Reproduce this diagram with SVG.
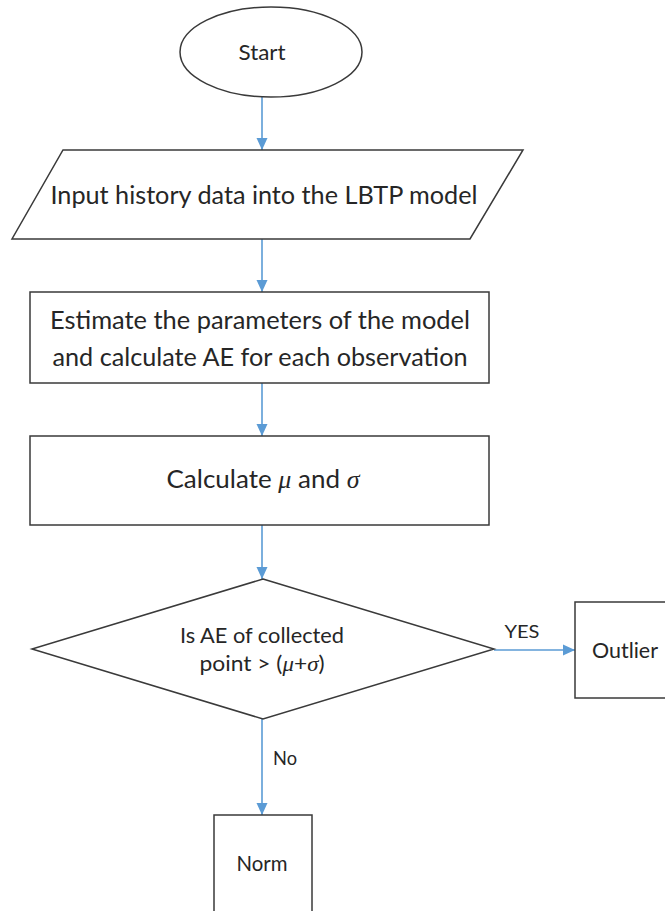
<svg xmlns="http://www.w3.org/2000/svg" width="665" height="911" viewBox="0 0 665 911">
  <style>
    .shape { fill: #ffffff; stroke: #3a3a3a; stroke-width: 1.5; }
    .link { fill: none; stroke: #5B9BD5; stroke-width: 1.6; }
    .t { font-family: Lato, "Liberation Sans", Arial, sans-serif; fill: #262626; text-anchor: middle; }
    .big { font-size: 25px; }
    .lbl { font-size: 21px; }
    .m { font-family: "Liberation Serif", serif; font-style: italic; }
  </style>
  <defs>
    <marker id="arrow" viewBox="0 0 12 12" refX="12" refY="6" markerWidth="12" markerHeight="12" markerUnits="userSpaceOnUse" orient="auto">
      <path d="M0,0.5 L12,6 L0,11.5 z" fill="#5B9BD5"/>
    </marker>
  </defs>
  <rect width="665" height="911" fill="#ffffff"/>

  <g id="connectors">
    <line class="link" x1="262" y1="97" x2="262" y2="150" marker-end="url(#arrow)"/>
    <line class="link" x1="262" y1="239" x2="262" y2="292" marker-end="url(#arrow)"/>
    <line class="link" x1="262" y1="383" x2="262" y2="436" marker-end="url(#arrow)"/>
    <line class="link" x1="262" y1="525" x2="262" y2="579" marker-end="url(#arrow)"/>
    <line class="link" x1="494" y1="650" x2="575" y2="650" marker-end="url(#arrow)"/>
    <line class="link" x1="262" y1="719" x2="262" y2="815" marker-end="url(#arrow)"/>
    <text class="t" font-size="18" x="522" y="638" textLength="35" lengthAdjust="spacingAndGlyphs">YES</text>
    <text class="t" font-size="19" x="285" y="765" textLength="24" lengthAdjust="spacingAndGlyphs">No</text>
  </g>

  <g id="start">
    <ellipse class="shape" cx="271" cy="52" rx="91" ry="45"/>
    <text class="t" font-size="22" x="262" y="60" textLength="47" lengthAdjust="spacingAndGlyphs">Start</text>
  </g>

  <g id="input">
    <polygon class="shape" points="63,150 523,150 470,239 12,239"/>
    <text class="t big" x="264" y="204" textLength="427" lengthAdjust="spacingAndGlyphs">Input history data into the LBTP model</text>
  </g>

  <g id="estimate">
    <rect class="shape" x="30" y="292" width="459" height="91"/>
    <text class="t big" x="260" y="329" textLength="420" lengthAdjust="spacingAndGlyphs">Estimate the parameters of the model</text>
    <text class="t big" x="260" y="366" textLength="415" lengthAdjust="spacingAndGlyphs">and calculate AE for each observation</text>
  </g>

  <g id="calculate">
    <rect class="shape" x="30" y="436" width="459" height="89"/>
    <text class="t big" x="263" y="488" textLength="193" lengthAdjust="spacingAndGlyphs">Calculate <tspan class="m">μ</tspan> and <tspan class="m">σ</tspan></text>
  </g>

  <g id="decision">
    <polygon class="shape" points="263,579 494,649 263,719 32,649"/>
    <text class="t lbl" x="262" y="643" textLength="164" lengthAdjust="spacingAndGlyphs">Is AE of collected</text>
    <text class="t lbl" x="262" y="671" textLength="125" lengthAdjust="spacingAndGlyphs">point &gt; (<tspan class="m">μ</tspan>+<tspan class="m">σ</tspan>)</text>
  </g>

  <g id="outlier">
    <rect class="shape" x="575" y="602" width="95" height="96"/>
    <text class="t" font-size="22" x="625" y="658" textLength="66" lengthAdjust="spacingAndGlyphs">Outlier</text>
  </g>

  <g id="norm">
    <rect class="shape" x="214" y="815" width="98" height="100"/>
    <text class="t" font-size="21" x="262" y="871" textLength="51" lengthAdjust="spacingAndGlyphs">Norm</text>
  </g>
</svg>
